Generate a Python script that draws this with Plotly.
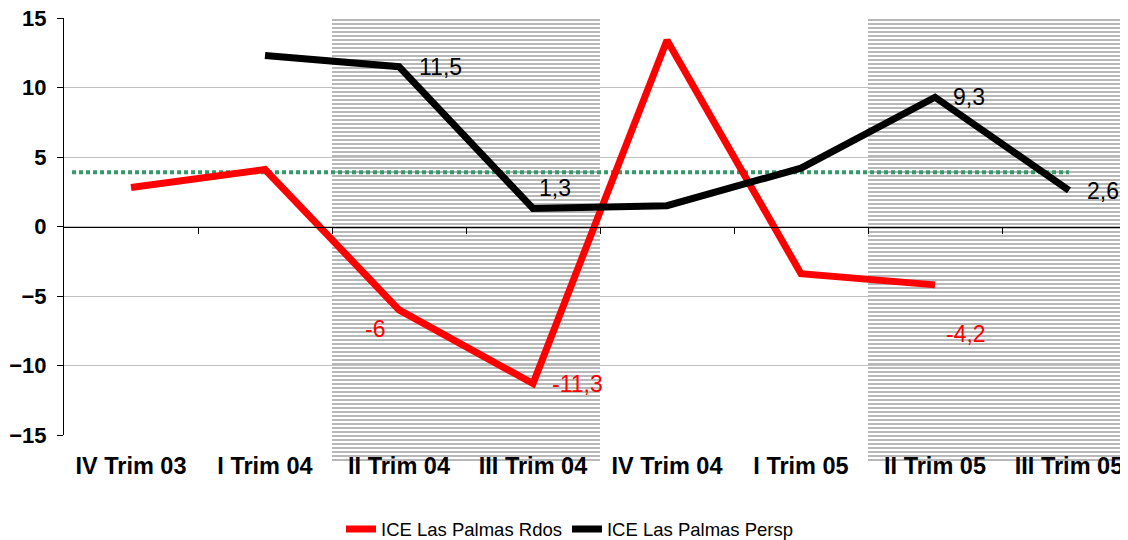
import plotly.graph_objects as go

categories = ["IV Trim 03", "I Trim 04", "II Trim 04", "III Trim 04",
              "IV Trim 04", "I Trim 05", "II Trim 05", "III Trim 05"]
rdos = [2.8, 4.1, -6.0, -11.3, 13.4, -3.4, -4.2, None]
persp = [None, 12.3, 11.5, 1.3, 1.5, 4.2, 9.3, 2.6]
average_level = 3.9
shaded_periods = ["II Trim 04", "III Trim 04", "II Trim 05", "III Trim 05"]

# which points carry a visible data label, and the label offsets (px)
rdos_labels = {"II Trim 04": (-24, -19), "III Trim 04": (44, 0), "II Trim 05": (31, -49)}
persp_labels = {"II Trim 04": (41, 0), "III Trim 04": (22, 20), "II Trim 05": (34, 0), "III Trim 05": (34, -1)}

FONT = "Liberation Sans, Arial, sans-serif"
BODY = 8  # default page body margin that offsets the figure in the window
W, H = 1128 - BODY, 540 - BODY
M_L, M_R, M_T = 64 - BODY, 0, 18 - BODY
shade_bottom_px = 463 - BODY
plot_bottom_px = 435 - BODY
M_B = H - shade_bottom_px
paper_h = H - M_T - M_B
d0 = (shade_bottom_px - plot_bottom_px) / paper_h
y_min, y_max = -15, 15
x_lo, x_hi = -0.5, -0.5 + (W - M_L - M_R) / 134.0
zero_pos = d0 + (1 - d0) * (0 - y_min) / (y_max - y_min)

fig = go.Figure()

# shaded (hatched) quarters
fig.add_trace(go.Bar(
    x=categories,
    y=[1 if c in shaded_periods else None for c in categories],
    width=1, xaxis="x", yaxis="y",
    marker=dict(color="white", line=dict(width=0),
                pattern=dict(shape="-", fgcolor="#b8b8b8", bgcolor="white",
                             size=4, solidity=0.5, fillmode="replace")),
    showlegend=False, hoverinfo="skip"))

fig.add_trace(go.Scatter(
    x=categories, y=rdos, mode="lines", name="ICE Las Palmas Rdos",
    line=dict(color="#ff0000", width=7), xaxis="x", yaxis="y2",
    connectgaps=False))
fig.add_trace(go.Scatter(
    x=categories, y=persp, mode="lines", name="ICE Las Palmas Persp",
    line=dict(color="#000000", width=7), xaxis="x", yaxis="y2",
    connectgaps=False))

# helper trace for the zero-line axis with category-boundary ticks
fig.add_trace(go.Scatter(x=[], y=[], xaxis="x3", yaxis="y2",
                         showlegend=False, hoverinfo="skip"))

annotations = []
def fmt(v):
    return (("%.1f" % v).rstrip("0").rstrip(".")).replace(".", ",")
for series, labels, color in ((rdos, rdos_labels, "#ff0000"), (persp, persp_labels, "#000000")):
    for c, v in zip(categories, series):
        if v is None or c not in labels:
            continue
        dx, dy = labels[c]
        annotations.append(dict(
            x=c, y=v, xref="x", yref="y2", text=fmt(v), showarrow=False,
            xshift=dx, yshift=dy, font=dict(family=FONT, size=23, color=color)))

fig.update_layout(
    template="none",
    width=W, height=H,
    margin=dict(l=M_L, r=M_R, t=M_T, b=M_B, pad=0, autoexpand=False),
    paper_bgcolor="white", plot_bgcolor="rgba(0,0,0,0)",
    bargap=0,
    font=dict(family=FONT, color="black"),
    xaxis=dict(type="category", categoryorder="array", categoryarray=categories,
               range=[x_lo, x_hi], anchor="y2", showgrid=False, showline=False,
               zeroline=False, ticks="", ticklabelstandoff=14, automargin=False,
               ticklabeloverflow="allow",
               tickfont=dict(family=FONT, size=23.5, color="black", weight="bold")),
    xaxis3=dict(overlaying="x", anchor="free", position=zero_pos, side="bottom",
                range=[x_lo, x_hi], showline=True, linecolor="black", linewidth=1,
                ticks="outside", ticklen=6, tickcolor="black", tickwidth=1,
                tickvals=[i + 0.5 for i in range(len(categories) - 1)],
                showticklabels=False, showgrid=False, zeroline=False, automargin=False),
    yaxis=dict(domain=[0, 1], range=[0, 1], visible=False, anchor="x",
               fixedrange=True, automargin=False),
    yaxis2=dict(domain=[d0, 1], range=[y_min, y_max], anchor="x",
                dtick=5, tick0=0, showgrid=True, gridcolor="#c0c0c0", gridwidth=1,
                zeroline=False, showline=True, linecolor="black", linewidth=1,
                ticks="outside", ticklen=6, tickcolor="black", automargin=False,
                ticklabelstandoff=6, ticklabeloverflow="allow",
                tickfont=dict(family=FONT, size=22, color="black", weight="bold")),
    shapes=[dict(type="line", xref="x", yref="y2", x0=-0.44, x1=len(categories) - 1,
                 y0=average_level, y1=average_level, layer="below",
                 line=dict(color="#339966", width=4, dash="4px,3px"))],
    annotations=annotations,
    showlegend=True,
    legend=dict(orientation="h", xref="container", yref="container",
                x=(570 - BODY) / W, xanchor="center", y=0.02, yanchor="middle",
                font=dict(family=FONT, size=18.5, color="black"),
                bgcolor="rgba(0,0,0,0)", itemwidth=30, tracegroupgap=0),
)

fig.write_html("out.html")
